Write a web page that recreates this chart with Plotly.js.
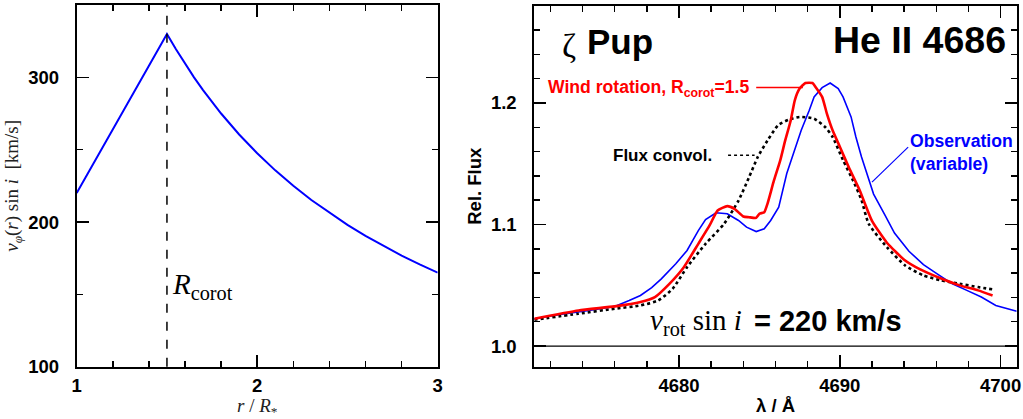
<!DOCTYPE html>
<html>
<head>
<meta charset="utf-8">
<script src="https://cdn.plot.ly/plotly-3.0.1.min.js"></script>
<style>html,body{margin:0;padding:0;background:#fff;}#chart{width:1023px;height:419px;}</style>
</head>
<body>
<div id="chart"></div>
<script>
// ---- Left panel: rotation velocity profile ----
const radius = [1.0,1.1,1.2,1.3,1.4,1.5,1.55,1.6,1.65,1.7,1.75,1.8,1.9,2.0,2.1,2.2,2.3,2.4,2.5,2.6,2.7,2.8,2.9,3.0];
const vphi   = [220,242,264,286,308,330,319.4,309.4,300,291.2,282.9,275,260.5,247.5,235.7,225,215.2,206.3,198,190.4,183.3,176.8,170.7,165];
const rCorot = 1.5;

// ---- Right panel: He II 4686 profiles ----
const obsWave = [4671.0,4672.6,4674.4,4676.0,4676.9,4677.6,4678.3,4678.9,4679.8,4680.5,4681.2,4681.65,4682.3,4683.0,4683.7,4684.2,4684.8,4685.3,4685.7,4686.2,4686.7,4687.2,4687.6,4688.1,4688.4,4688.9,4689.4,4689.9,4690.2,4690.7,4691.0,4691.35,4691.8,4692.1,4692.8,4693.4,4694.3,4695.2,4696.1,4697.0,4697.9,4698.8,4699.7,4700.3,4701.0];
const obsFlux = [1.0225,1.026,1.0293,1.0326,1.0375,1.0416,1.048,1.0553,1.0677,1.0786,1.095,1.104,1.1096,1.1088,1.1033,1.0978,1.0942,1.0964,1.1033,1.1142,1.142,1.161,1.1775,1.194,1.205,1.2126,1.2164,1.2118,1.205,1.1885,1.172,1.1556,1.1364,1.125,1.108,1.093,1.078,1.067,1.059,1.0512,1.0458,1.0403,1.0334,1.031,1.0286];

const modWave = [4671.0,4673.75,4676.0,4677.6,4678.5,4679.4,4680.3,4681.2,4681.9,4682.4,4683.0,4683.45,4684.0,4684.35,4684.8,4685.0,4685.3,4685.5,4685.9,4686.3,4686.6,4686.95,4687.2,4687.5,4687.86,4688.3,4688.5,4688.9,4689.2,4689.55,4690.0,4690.56,4691.24,4692.0,4692.93,4694.0,4695.0,4696.3,4697.45,4698.6,4699.5];
const modFlux = [1.0225,1.0293,1.0326,1.0362,1.0403,1.0512,1.0649,1.0841,1.0992,1.1115,1.1151,1.1129,1.1066,1.106,1.1055,1.1088,1.1101,1.117,1.136,1.153,1.169,1.1858,1.2022,1.2118,1.2164,1.2164,1.213,1.205,1.191,1.1775,1.164,1.147,1.128,1.103,1.085,1.071,1.063,1.0555,1.0499,1.0458,1.0416];

const convWave = [4671.0,4673.75,4676.0,4677.6,4678.7,4679.6,4680.5,4681.65,4682.8,4683.7,4684.36,4684.9,4685.5,4686.16,4686.84,4687.5,4688.4,4689.1,4689.55,4690.2,4690.9,4691.35,4691.8,4692.93,4694.06,4695.2,4696.3,4697.45,4698.6,4699.5];
const convFlux = [1.0216,1.0266,1.0307,1.0334,1.0375,1.0471,1.0649,1.0841,1.1005,1.1197,1.139,1.1556,1.169,1.1816,1.1863,1.1885,1.187,1.180,1.172,1.153,1.134,1.12,1.1005,1.0814,1.0663,1.0581,1.054,1.0512,1.0485,1.0466];

const leftXTicks = [1,2,3];
const leftYTicks = [100,200,300];
const rightXTicks = [4680,4690,4700];
const rightYTicks = [1.0,1.1,1.2];

const W = 1023, H = 419;
const px = v => v / W;
const py = v => 1 - v / H;

const tickFont = {family:'Liberation Sans, Arial, sans-serif', size:18.5, color:'#000', weight:'bold'};
function axisBase(extra){
  return Object.assign({
    showline:true, linecolor:'#000', linewidth:2, mirror:'allticks',
    ticks:'inside', ticklen:12, tickwidth:1.5, tickcolor:'#000',
    showgrid:false, zeroline:false, tickfont:tickFont, fixedrange:true,
    tickmode:'array'
  }, extra);
}

const traces = [
  {x:radius, y:vphi, xaxis:'x', yaxis:'y', mode:'lines', line:{color:'#0000ff', width:2}, hoverinfo:'skip'},
  {x:obsWave, y:obsFlux, xaxis:'x2', yaxis:'y2', mode:'lines', line:{color:'#0000ff', width:1.6}, hoverinfo:'skip'},
  {x:convWave, y:convFlux, xaxis:'x2', yaxis:'y2', mode:'lines', line:{color:'#000', width:2.6, dash:'dot', shape:'spline', smoothing:0.6}, hoverinfo:'skip'},
  {x:modWave, y:modFlux, xaxis:'x2', yaxis:'y2', mode:'lines', line:{color:'#ff0000', width:2.6, shape:'spline', smoothing:0.5}, hoverinfo:'skip'}
];

const serif = 'Liberation Serif, Times New Roman, serif';
const sans = 'Liberation Sans, Arial, sans-serif';

const layout = {
  width:W, height:H, margin:{l:0,r:0,t:0,b:0},
  paper_bgcolor:'#fff', plot_bgcolor:'#fff', showlegend:false,
  xaxis: axisBase({domain:[px(76.7), px(437.7)], range:[1,3], tickvals:leftXTicks,
    minor:{dtick:0.2, tick0:1, ticks:'inside', ticklen:6, tickwidth:1.5, tickcolor:'#000'},
    ticklabelstandoff:1,
    title:{text:'<i>r</i> / <i>R</i><sub>*</sub>', font:{family:serif, size:19, color:'#222'}, standoff:4}}),
  yaxis: axisBase({domain:[py(366.7), py(5)], range:[100,350], tickvals:leftYTicks,
    minor:{dtick:50, tick0:100, ticks:'inside', ticklen:6, tickwidth:1.5, tickcolor:'#000'},
    ticklabelstandoff:12,
    title:{text:'<i>v</i><sub><i>φ</i></sub>(<i>r</i>) sin <i>i</i>  [km/s]', font:{family:serif, size:19, color:'#222'}, standoff:4}}),
  xaxis2: axisBase({domain:[px(534.3), px(1016.7)], range:[4671,4701], tickvals:rightXTicks, anchor:'y2',
    minor:{dtick:2, tick0:4670, ticks:'inside', ticklen:6, tickwidth:1.5, tickcolor:'#000'},
    ticklabelstandoff:1,
    title:{text:'λ / Å', font:{family:sans, size:18.5, color:'#000', weight:'bold'}, standoff:4}}),
  yaxis2: axisBase({domain:[py(366.7), py(5.7)], range:[0.983,1.28], tickvals:rightYTicks, anchor:'x2',
    tickformat:'.1f',
    minor:{dtick:0.02, tick0:1.0, ticks:'inside', ticklen:6, tickwidth:1.5, tickcolor:'#000'},
    ticklabelstandoff:12,
    title:{text:'Rel. Flux', font:{family:sans, size:18.5, color:'#000', weight:'bold'}, standoff:4}}),
  shapes:[
    {type:'line', xref:'x', yref:'y domain', x0:rCorot, x1:rCorot, y0:0, y1:1, line:{color:'#000', width:1.5, dash:'dash'}},
    {type:'line', xref:'x2 domain', yref:'y2', x0:0, x1:1, y0:1.0, y1:1.0, line:{color:'#000', width:1.3}},
    {type:'line', xref:'x2', yref:'y2', x0:4684.8, x1:4687.7, y0:1.2127, y1:1.2127, line:{color:'#ff0000', width:1.3}},
    {type:'line', xref:'x2', yref:'y2', x0:4683.05, x1:4684.7, y0:1.157, y1:1.157, line:{color:'#000', width:1.5, dash:'dot'}},
    {type:'line', xref:'x2', yref:'y2', x0:4694.25, x1:4692.0, y0:1.1636, y1:1.1348, line:{color:'#0000ff', width:1.2}}
  ],
  annotations:[
    {xref:'paper', yref:'paper', x:px(170), y:py(286), xanchor:'left', yanchor:'middle', showarrow:false,
      text:'<i>R</i><sub>corot</sub>', font:{family:serif, size:29, color:'#000'}},
    {xref:'paper', yref:'paper', x:px(569), y:py(45), xanchor:'center', yanchor:'middle', showarrow:false,
      text:'ζ', font:{family:serif, size:34, color:'#000'}},
    {xref:'paper', yref:'paper', x:px(585), y:py(42), xanchor:'left', yanchor:'middle', showarrow:false,
      text:'Pup', font:{family:sans, size:35, color:'#000', weight:'bold'}},
    {xref:'paper', yref:'paper', x:px(1008), y:py(40), xanchor:'right', yanchor:'middle', showarrow:false,
      text:'He II 4686', font:{family:sans, size:37.5, color:'#000', weight:'bold'}},
    {xref:'paper', yref:'paper', x:px(751), y:py(89), xanchor:'right', yanchor:'middle', showarrow:false,
      text:'Wind rotation, R<sub>corot</sub>=1.5', font:{family:sans, size:17.6, color:'#ff0000', weight:'bold'}},
    {xref:'paper', yref:'paper', x:px(714), y:py(155), xanchor:'right', yanchor:'middle', showarrow:false,
      text:'Flux convol.', font:{family:sans, size:17, color:'#000', weight:'bold'}},
    {xref:'paper', yref:'paper', x:px(908), y:py(153), xanchor:'left', yanchor:'middle', showarrow:false, align:'left',
      text:'Observation<br>(variable)', font:{family:sans, size:17.6, color:'#0000ff', weight:'bold'}},
    {xref:'paper', yref:'paper', x:px(744), y:py(322), xanchor:'right', yanchor:'middle', showarrow:false,
      text:'<i>v</i><sub>rot</sub> sin <i>i</i>', font:{family:serif, size:29, color:'#000'}},
    {xref:'paper', yref:'paper', x:px(752), y:py(321), xanchor:'left', yanchor:'middle', showarrow:false,
      text:'= 220 km/s', font:{family:sans, size:29, color:'#000', weight:'bold'}}
  ]
};

Plotly.newPlot('chart', traces, layout, {displayModeBar:false, staticPlot:true});
</script>
</body>
</html>
